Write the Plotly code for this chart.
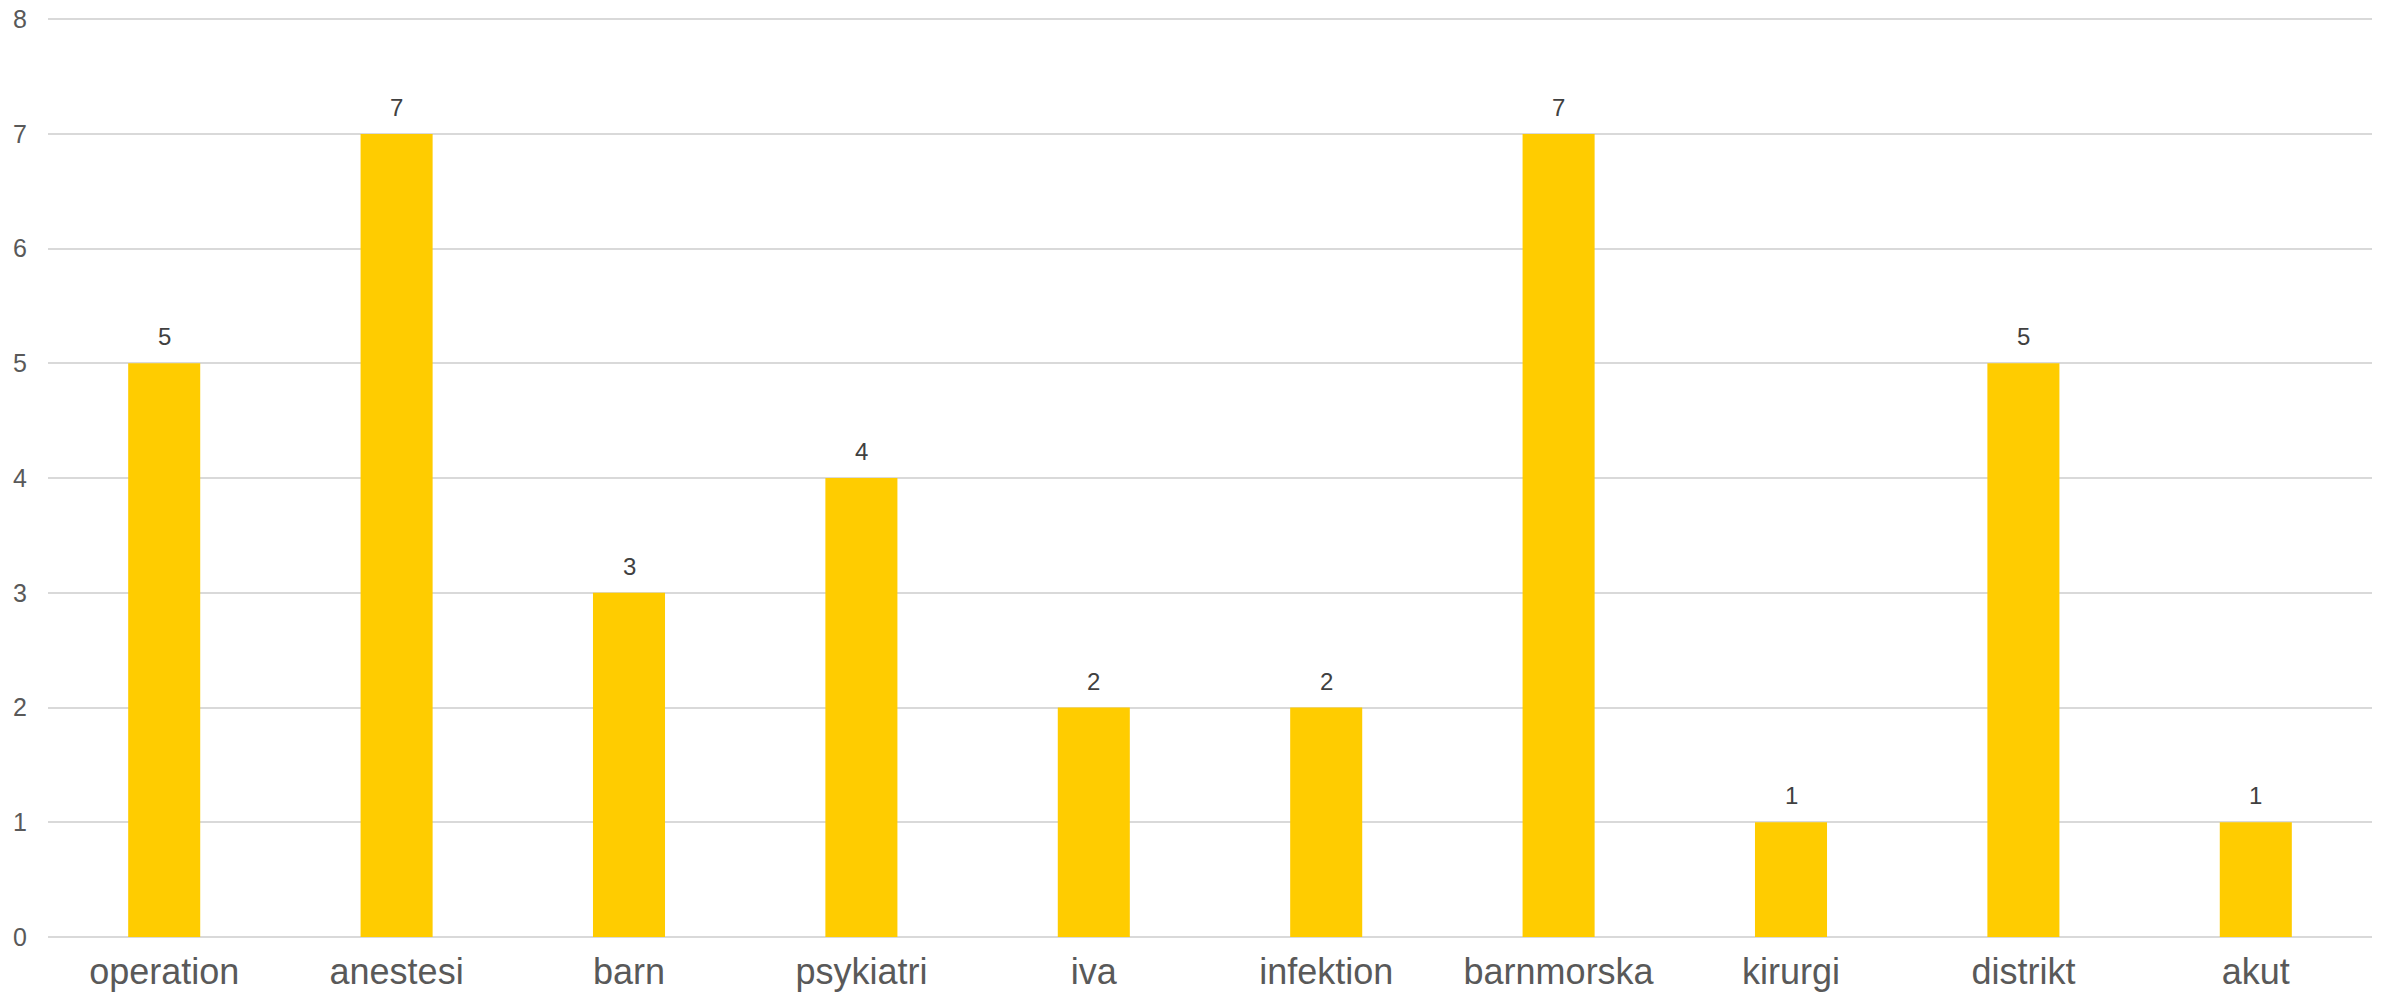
import plotly.graph_objects as go

categories = ["operation", "anestesi", "barn", "psykiatri", "iva", "infektion",
              "barnmorska", "kirurgi", "distrikt", "akut"]
values = [5, 7, 3, 4, 2, 2, 7, 1, 5, 1]
y_ticks = [0, 1, 2, 3, 4, 5, 6, 7, 8]

fig = go.Figure()
fig.add_trace(go.Bar(
    x=categories, y=values,
    marker=dict(color="#FFCC00", line=dict(width=0)),
    width=0.31,
    hoverinfo="x+y",
))

for c, v in zip(categories, values):
    fig.add_annotation(
        x=c, y=v, text=str(v), showarrow=False,
        yanchor="bottom", yshift=11,
        font=dict(family="Liberation Sans, Arial", size=24, color="#404040"),
    )

fig.update_layout(
    width=2389, height=1004,
    margin=dict(l=48, r=17, t=18, b=67, autoexpand=False),
    paper_bgcolor="white", plot_bgcolor="white",
    showlegend=False,
    bargap=0.69,
    font=dict(family="Liberation Sans, Arial"),
)
fig.update_xaxes(
    showgrid=False, showline=False, zeroline=False,
    tickfont=dict(size=36, color="#595959"),
    ticklabelstandoff=10,
    automargin=False,
)
fig.update_yaxes(
    range=[0, 8.01], tickvals=y_ticks,
    showgrid=True, gridcolor="#D9D9D9", gridwidth=2,
    zeroline=True, zerolinecolor="#D9D9D9", zerolinewidth=2,
    showline=False,
    tickfont=dict(size=25, color="#595959"),
    ticklabelstandoff=20,
    ticklabeloverflow="allow",
    automargin=False,
)

fig.write_html("out.html")
